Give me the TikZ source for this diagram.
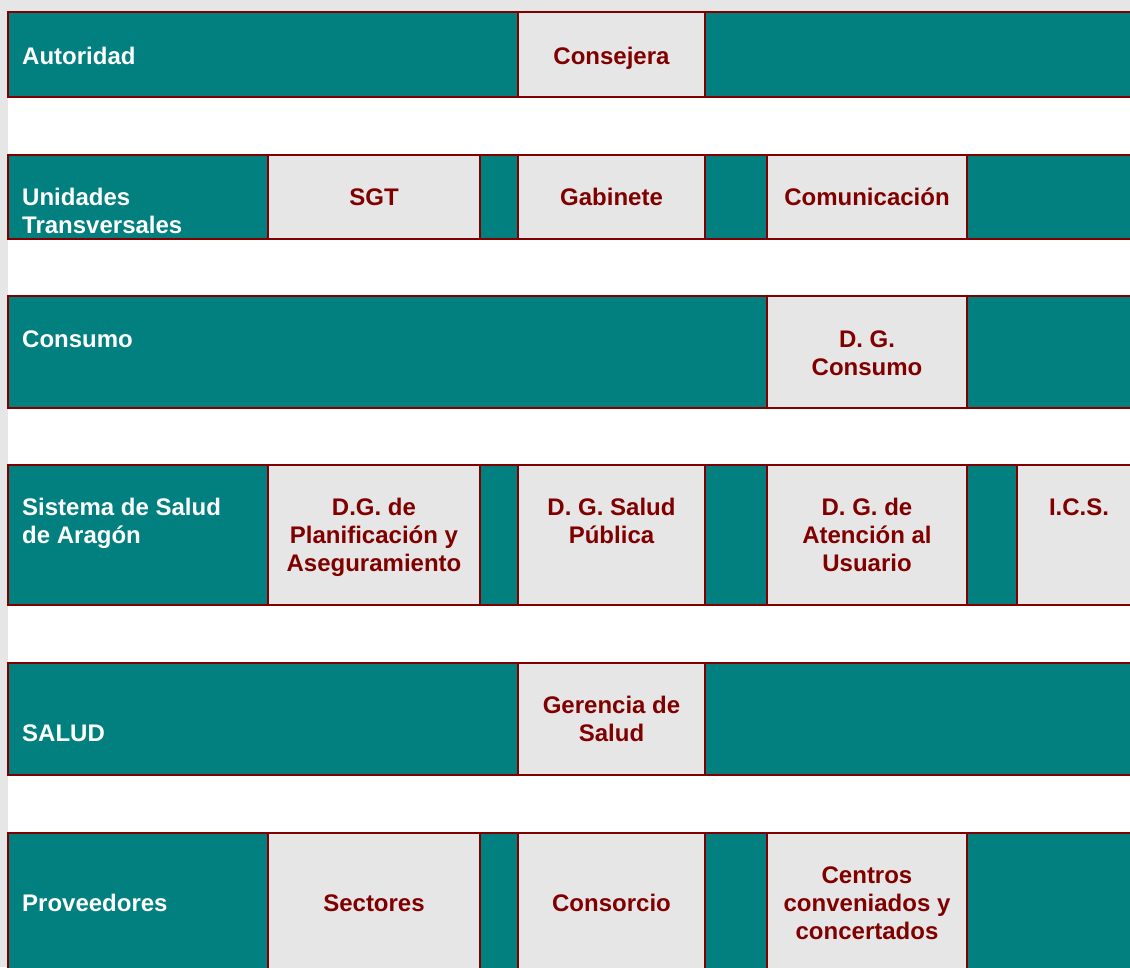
\documentclass[tikz,border=0pt]{standalone}
\usepackage{fontspec}
\setmainfont{Liberation Sans}
\definecolor{tealc}{HTML}{027F7F}
\definecolor{cellgray}{HTML}{E6E6E6}
\definecolor{bord}{HTML}{800000}
\definecolor{pagegray}{HTML}{E6E6E6}
\begin{document}
\begin{tikzpicture}[x=1pt,y=-1pt,
  rowbar/.style={fill=tealc,draw=bord,line width=2pt,inner sep=0pt,outer sep=0pt,anchor=north west},
  cellbox/.style={fill=cellgray,draw=bord,line width=1.6pt,inner sep=0pt,outer sep=0pt,anchor=north west},
  lbl/.style={text=white,font=\fontsize{24}{28}\selectfont\bfseries,align=left,anchor=base west,inner sep=0pt},
  ctxt/.style={text=bord,font=\fontsize{24}{28}\selectfont\bfseries,align=center,anchor=base,inner sep=0pt}]
\useasboundingbox (0,0) rectangle (1130,967);
\fill[pagegray] (0,0) rectangle (1130,967);
\fill[white] (8,12) rectangle (1130,967);

% Row 1
\node[rowbar, minimum width=1140pt, minimum height=85pt] (r1) at (8,12) {};
\node[cellbox, minimum width=187pt, minimum height=85pt] (c1a) at (518,12) {};
\node[lbl] (t1) at (22,64) {Autoridad};
\node[ctxt] (t1a) at (611.5,64) {Consejera};

% Row 2
\node[rowbar, minimum width=1140pt, minimum height=84pt] (r2) at (8,155) {};
\node[cellbox, minimum width=212pt, minimum height=84pt] (c2a) at (268,155) {};
\node[cellbox, minimum width=187pt, minimum height=84pt] (c2b) at (518,155) {};
\node[cellbox, minimum width=200pt, minimum height=84pt] (c2c) at (767,155) {};
\node[lbl] (t2) at (22,233) {Unidades\\Transversales};
\node[ctxt] (t2a) at (374,205) {SGT};
\node[ctxt] (t2b) at (611.5,205) {Gabinete};
\node[ctxt] (t2c) at (867,205) {Comunicación};

% Row 3
\node[rowbar, minimum width=1140pt, minimum height=112pt] (r3) at (8,296) {};
\node[cellbox, minimum width=200pt, minimum height=112pt] (c3a) at (767,296) {};
\node[lbl] (t3) at (22,347) {Consumo};
\node[ctxt] (t3a) at (867,375) {D. G.\\Consumo};

% Row 4
\node[rowbar, minimum width=1140pt, minimum height=140pt] (r4) at (8,465) {};
\node[cellbox, minimum width=212pt, minimum height=140pt] (c4a) at (268,465) {};
\node[cellbox, minimum width=187pt, minimum height=140pt] (c4b) at (518,465) {};
\node[cellbox, minimum width=200pt, minimum height=140pt] (c4c) at (767,465) {};
\node[cellbox, minimum width=130pt, minimum height=140pt] (c4d) at (1017,465) {};
\node[lbl] (t4) at (22,543) {Sistema de Salud\\de Aragón};
\node[ctxt] (t4a) at (374,571) {D.G. de\\Planificación y\\Aseguramiento};
\node[ctxt] (t4b) at (611.5,543) {D. G. Salud\\Pública};
\node[ctxt] (t4c) at (867,571) {D. G. de\\Atención al\\Usuario};
\node[ctxt] (t4d) at (1079,515) {I.C.S.};

% Row 5
\node[rowbar, minimum width=1140pt, minimum height=112pt] (r5) at (8,663) {};
\node[cellbox, minimum width=187pt, minimum height=112pt] (c5a) at (518,663) {};
\node[lbl] (t5) at (22,741) {SALUD};
\node[ctxt] (t5a) at (611.5,741) {Gerencia de\\Salud};

% Row 6
\node[rowbar, minimum width=1140pt, minimum height=140pt] (r6) at (8,833) {};
\node[cellbox, minimum width=212pt, minimum height=140pt] (c6a) at (268,833) {};
\node[cellbox, minimum width=187pt, minimum height=140pt] (c6b) at (518,833) {};
\node[cellbox, minimum width=200pt, minimum height=140pt] (c6c) at (767,833) {};
\node[lbl] (t6) at (22,911) {Proveedores};
\node[ctxt] (t6a) at (374,911) {Sectores};
\node[ctxt] (t6b) at (611.5,911) {Consorcio};
\node[ctxt] (t6c) at (867,939) {Centros\\conveniados y\\concertados};
\end{tikzpicture}
\end{document}
